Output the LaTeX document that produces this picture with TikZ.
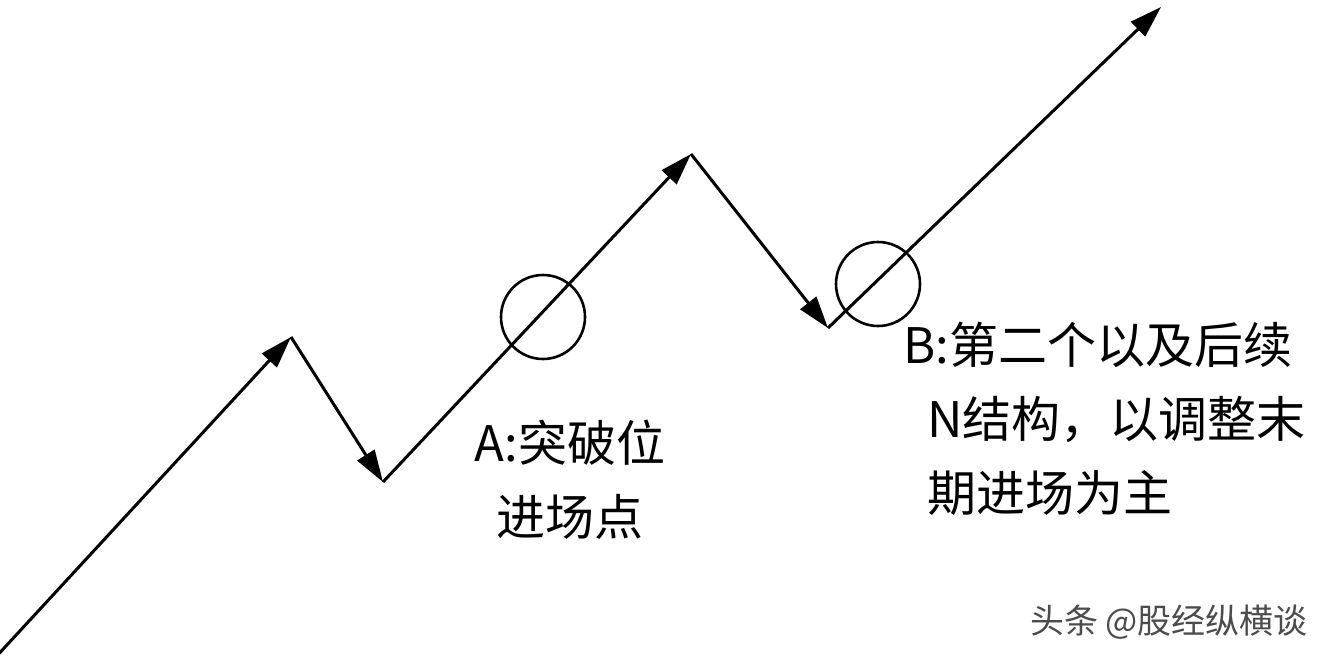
\documentclass[tikz,border=0pt]{standalone}
\usepackage{fontspec}
\newfontfamily\cjk{Noto Sans CJK SC}
\usetikzlibrary{arrows.meta,positioning}

\begin{document}
\begin{tikzpicture}[x=1pt,y=-1pt,
	trend/.style={line width=3pt, -{Triangle[length=32pt,width=20pt]}},
	ring/.style={circle, draw, line width=2.6pt, minimum size=84pt, inner sep=0pt},
	note/.style={font=\cjk\fontsize{49}{74}\selectfont, inner sep=0pt}]
	\useasboundingbox[fill=white] (0,0) rectangle (1328,656);
	\coordinate (start) at (-6,659);
	\coordinate (top1) at (291,337);
	\coordinate (low1) at (383,482);
	\coordinate (top2) at (691,154);
	\coordinate (low2) at (828,328);
	\coordinate (target) at (1161,7);

	\draw[trend] (start) -- (top1);
	\draw[trend] (top1) -- (low1);
	\draw[trend] (low1) -- (top2);
	\draw[trend] (top2) -- (low2);
	\draw[trend] (low2) -- (target);

	\node[ring] (ringA) at (543,317) {};
	\node[ring] (ringB) at (878,284) {};

	\node[note, align=center, anchor=north] (labelA) at (570,420) {A:突破位\\进场点};
	\node[note, align=left, anchor=north west] (labelB) at (927,322) {\hspace*{-24pt}B:第二个以及后续\\N结构，以调整末\\期进场为主};
	\node[font=\cjk\fontsize{34}{38}\selectfont, text=black!70, anchor=east, inner sep=0pt] (mark) at (1308,622) {头条 @股经纵横谈};
\end{tikzpicture}
\end{document}
